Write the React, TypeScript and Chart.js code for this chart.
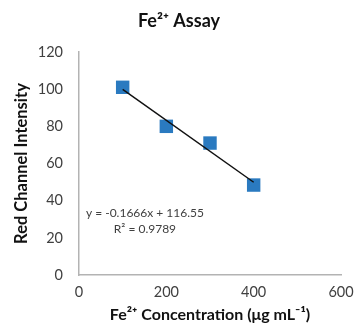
import React, { useEffect, useRef } from "react";
import { Chart, registerables } from "chart.js";

Chart.register(...registerables);

const concentrations = [100, 200, 300, 400];
const intensities = [101, 80, 71, 48.4];
const trendX = [100, 400];
const trendY = [99.89, 49.91];
const xTicks = [0, 200, 400, 600];
const yTicks = [0, 20, 40, 60, 80, 100, 120];
const equationLines = ["y = -0.1666x + 116.55", "R\u00B2 = 0.9789"];

const FONT = "Lato, 'Open Sans', sans-serif";
const TEXT = "#404040";

const annotationPlugin = {
  id: "eqLabel",
  afterDatasetsDraw(chart: any) {
    const { ctx, scales } = chart;
    const cx = scales.x.getPixelForValue(151);
    const y1 = scales.y.getPixelForValue(33.4);
    const y2 = scales.y.getPixelForValue(24.8);
    ctx.save();
    ctx.fillStyle = TEXT;
    ctx.font = `12px ${FONT}`;
    ctx.textAlign = "center";
    ctx.textBaseline = "middle";
    ctx.fillText(equationLines[0], cx, y1);
    ctx.fillText(equationLines[1], cx, y2);
    ctx.restore();
  },
};

export default function App() {
  const ref = useRef<HTMLCanvasElement>(null);
  useEffect(() => {
    if (!ref.current) return;
    const chart = new Chart(ref.current, {
      type: "scatter",
      data: {
        datasets: [
          {
            type: "line",
            data: trendX.map((x, i) => ({ x, y: trendY[i] })),
            borderColor: "#111111",
            borderWidth: 1.5,
            pointRadius: 0,
            fill: false,
            order: 1,
          } as any,
          {
            data: concentrations.map((x, i) => ({ x, y: intensities[i] })),
            pointStyle: "rect",
            pointRadius: 9.5,
            backgroundColor: "#2a7ac0",
            borderColor: "#2a7ac0",
            borderWidth: 0,
            order: 2,
          },
        ],
      },
      options: {
        animation: false,
        responsive: false,
        devicePixelRatio: 1,
        layout: { padding: { left: 0, right: 0, top: 0, bottom: 0 } },
        plugins: {
          legend: { display: false },
          tooltip: { enabled: false },
          title: {
            display: true,
            text: "Fe\u00B2\u207A Assay",
            color: "#111111",
            font: { family: FONT, size: 18, weight: "bold", lineHeight: 1.2 },
            padding: { top: 10, bottom: 20.4 },
          },
        },
        scales: {
          x: {
            type: "linear",
            min: 0,
            max: 600,
            afterBuildTicks: (s: any) => {
              s.ticks = xTicks.map((v) => ({ value: v }));
            },
            afterFit: (s: any) => {
              s.height = 51;
              s.paddingRight = 17;
              s.paddingLeft = 0;
            },
            grid: { display: false, drawTicks: false },
            border: { display: true, color: "#b3b3b3", width: 1.5 },
            ticks: {
              color: TEXT,
              font: { family: FONT, size: 14.5 },
              padding: 9,
              maxRotation: 0,
            },
            title: {
              display: true,
              text: "Fe\u00B2\u207A Concentration (\u03BCg mL\u207B\u00B9)",
              color: "#111111",
              font: { family: FONT, size: 16, weight: "bold", lineHeight: 1.2 },
              padding: { top: 0, bottom: 1.4 },
            },
          },
          y: {
            type: "linear",
            min: 0,
            max: 120,
            afterBuildTicks: (s: any) => {
              s.ticks = yTicks.map((v) => ({ value: v }));
            },
            afterFit: (s: any) => {
              s.width = 79;
              s.paddingTop = 0;
              s.paddingBottom = 0;
            },
            grid: { display: false, drawTicks: false },
            border: { display: true, color: "#b3b3b3", width: 1.5 },
            ticks: {
              color: TEXT,
              font: { family: FONT, size: 14.5 },
              padding: 16,
            },
            title: {
              display: true,
              text: "Red Channel Intensity",
              color: "#111111",
              font: { family: FONT, size: 16.5, weight: "bold", lineHeight: 1.2 },
              padding: { top: 12, bottom: 0 },
            },
          },
        },
      } as any,
      plugins: [annotationPlugin],
    });
    return () => chart.destroy();
  }, []);
  return (
    <div style={{ position: "absolute", left: 0, top: 0, width: 358, height: 326, background: "#fff" }}>
      <canvas ref={ref} width={358} height={326} style={{ width: 358, height: 326 }} />
    </div>
  );
}
